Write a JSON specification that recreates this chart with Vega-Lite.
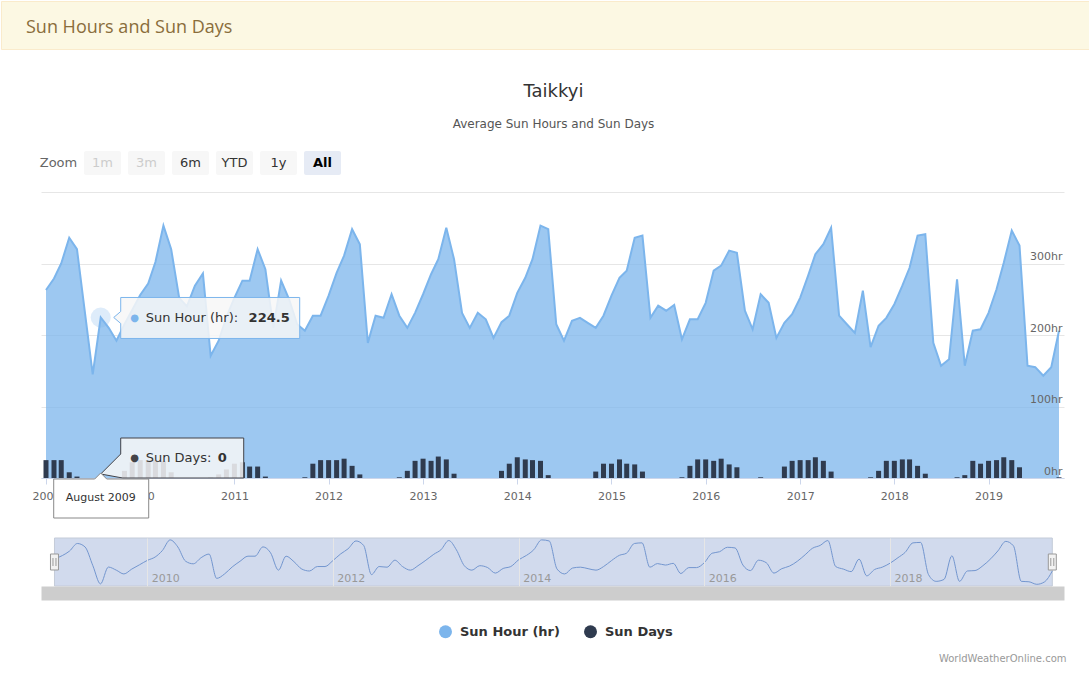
{
  "$schema": "https://vega.github.io/schema/vega-lite/v6.json",
  "background": "white",
  "padding": 0,
  "config": {
    "font": "DejaVu Sans",
    "view": {"stroke": null},
    "title": {"font": "DejaVu Sans"},
    "axis": {"labelFont": "DejaVu Sans"},
    "legend": {"labelFont": "DejaVu Sans"}
  },
  "datasets": {
    "sun": [
      {"date":"2009-01-01","hours":263,"days":25},{"date":"2009-02-01","hours":279,"days":25},{"date":"2009-03-01","hours":300,"days":25},{"date":"2009-04-01","hours":336,"days":8},{"date":"2009-05-01","hours":320,"days":2},{"date":"2009-06-01","hours":231,"days":0},{"date":"2009-07-01","hours":145,"days":0},{"date":"2009-08-01","hours":224.5,"days":0},{"date":"2009-09-01","hours":210,"days":0},{"date":"2009-10-01","hours":192,"days":0},{"date":"2009-11-01","hours":215,"days":10},{"date":"2009-12-01","hours":235,"days":22},
      {"date":"2010-01-01","hours":256,"days":25},{"date":"2010-02-01","hours":272,"days":25},{"date":"2010-03-01","hours":302,"days":25},{"date":"2010-04-01","hours":353,"days":24},{"date":"2010-05-01","hours":320,"days":8},{"date":"2010-06-01","hours":252,"days":0},{"date":"2010-07-01","hours":240,"days":0},{"date":"2010-08-01","hours":269,"days":0},{"date":"2010-09-01","hours":286,"days":0},{"date":"2010-10-01","hours":171,"days":1},{"date":"2010-11-01","hours":192,"days":5},{"date":"2010-12-01","hours":225,"days":12},
      {"date":"2011-01-01","hours":252,"days":20},{"date":"2011-02-01","hours":276,"days":22},{"date":"2011-03-01","hours":276,"days":16},{"date":"2011-04-01","hours":320,"days":16},{"date":"2011-05-01","hours":292,"days":2},{"date":"2011-06-01","hours":210,"days":0},{"date":"2011-07-01","hours":276,"days":0},{"date":"2011-08-01","hours":250,"days":0},{"date":"2011-09-01","hours":215,"days":0},{"date":"2011-10-01","hours":206,"days":1},{"date":"2011-11-01","hours":227,"days":20},{"date":"2011-12-01","hours":227,"days":25},
      {"date":"2012-01-01","hours":255,"days":25},{"date":"2012-02-01","hours":287,"days":25},{"date":"2012-03-01","hours":311,"days":27},{"date":"2012-04-01","hours":348,"days":17},{"date":"2012-05-01","hours":327,"days":5},{"date":"2012-06-01","hours":189,"days":0},{"date":"2012-07-01","hours":227,"days":0},{"date":"2012-08-01","hours":224,"days":0},{"date":"2012-09-01","hours":257,"days":0},{"date":"2012-10-01","hours":227,"days":1},{"date":"2012-11-01","hours":210,"days":10},{"date":"2012-12-01","hours":231,"days":24},
      {"date":"2013-01-01","hours":257,"days":27},{"date":"2013-02-01","hours":285,"days":24},{"date":"2013-03-01","hours":306,"days":30},{"date":"2013-04-01","hours":350,"days":26},{"date":"2013-05-01","hours":306,"days":6},{"date":"2013-06-01","hours":231,"days":0},{"date":"2013-07-01","hours":210,"days":0},{"date":"2013-08-01","hours":231,"days":0},{"date":"2013-09-01","hours":222,"days":0},{"date":"2013-10-01","hours":196,"days":0},{"date":"2013-11-01","hours":218,"days":10},{"date":"2013-12-01","hours":227,"days":20},
      {"date":"2014-01-01","hours":259,"days":29},{"date":"2014-02-01","hours":280,"days":26},{"date":"2014-03-01","hours":306,"days":25},{"date":"2014-04-01","hours":353,"days":24},{"date":"2014-05-01","hours":348,"days":4},{"date":"2014-06-01","hours":215,"days":0},{"date":"2014-07-01","hours":192,"days":0},{"date":"2014-08-01","hours":220,"days":0},{"date":"2014-09-01","hours":224,"days":0},{"date":"2014-10-01","hours":217,"days":0},{"date":"2014-11-01","hours":210,"days":9},{"date":"2014-12-01","hours":227,"days":20},
      {"date":"2015-01-01","hours":255,"days":20},{"date":"2015-02-01","hours":280,"days":26},{"date":"2015-03-01","hours":290,"days":20},{"date":"2015-04-01","hours":336,"days":19},{"date":"2015-05-01","hours":339,"days":9},{"date":"2015-06-01","hours":224,"days":0},{"date":"2015-07-01","hours":241,"days":0},{"date":"2015-08-01","hours":234,"days":0},{"date":"2015-09-01","hours":242,"days":0},{"date":"2015-10-01","hours":194,"days":1},{"date":"2015-11-01","hours":222,"days":17},{"date":"2015-12-01","hours":222,"days":26},
      {"date":"2016-01-01","hours":245,"days":26},{"date":"2016-02-01","hours":290,"days":24},{"date":"2016-03-01","hours":297,"days":27},{"date":"2016-04-01","hours":318,"days":19},{"date":"2016-05-01","hours":315,"days":15},{"date":"2016-06-01","hours":234,"days":0},{"date":"2016-07-01","hours":208,"days":0},{"date":"2016-08-01","hours":257,"days":1},{"date":"2016-09-01","hours":245,"days":0},{"date":"2016-10-01","hours":196,"days":0},{"date":"2016-11-01","hours":217,"days":16},{"date":"2016-12-01","hours":229,"days":24},
      {"date":"2017-01-01","hours":252,"days":25},{"date":"2017-02-01","hours":283,"days":25},{"date":"2017-03-01","hours":313,"days":29},{"date":"2017-04-01","hours":327,"days":24},{"date":"2017-05-01","hours":350,"days":9},{"date":"2017-06-01","hours":227,"days":0},{"date":"2017-07-01","hours":215,"days":0},{"date":"2017-08-01","hours":203,"days":0},{"date":"2017-09-01","hours":262,"days":0},{"date":"2017-10-01","hours":183,"days":1},{"date":"2017-11-01","hours":213,"days":10},{"date":"2017-12-01","hours":224,"days":24},
      {"date":"2018-01-01","hours":243,"days":24},{"date":"2018-02-01","hours":269,"days":26},{"date":"2018-03-01","hours":294,"days":26},{"date":"2018-04-01","hours":339,"days":17},{"date":"2018-05-01","hours":341,"days":6},{"date":"2018-06-01","hours":189,"days":0},{"date":"2018-07-01","hours":157,"days":0},{"date":"2018-08-01","hours":166,"days":0},{"date":"2018-09-01","hours":278,"days":1},{"date":"2018-10-01","hours":157,"days":4},{"date":"2018-11-01","hours":206,"days":24},{"date":"2018-12-01","hours":208,"days":20},
      {"date":"2019-01-01","hours":231,"days":24},{"date":"2019-02-01","hours":264,"days":25},{"date":"2019-03-01","hours":301,"days":29},{"date":"2019-04-01","hours":346,"days":25},{"date":"2019-05-01","hours":325,"days":15},{"date":"2019-06-01","hours":157,"days":0},{"date":"2019-07-01","hours":155,"days":0},{"date":"2019-08-01","hours":143,"days":0},{"date":"2019-09-01","hours":155,"days":0},{"date":"2019-10-01","hours":206,"days":1}
    ],
    "buttons": [
      {"label":"Zoom","state":"title"},
      {"label":"1m","state":"disabled"},
      {"label":"3m","state":"disabled"},
      {"label":"6m","state":"enabled"},
      {"label":"YTD","state":"enabled"},
      {"label":"1y","state":"enabled"},
      {"label":"All","state":"selected"}
    ],
    "header": [{"panel": "Sun Hours and Sun Days"}]
  },
  "title": {"text": "WorldWeatherOnline.com", "orient": "bottom", "anchor": "end", "fontSize": 10, "fontWeight": "normal", "color": "#999999", "dx": -24, "offset": 15},
  "spacing": 33,
  "vconcat": [
    {
      "width": 1089,
      "height": 48,
      "view": {"fill": "#fcf8e3", "stroke": "#faebcc"},
      "data": {"name": "header"},
      "mark": {"type": "text", "align": "left", "baseline": "middle", "dx": 25, "dy": 3, "fontSize": 18, "font": "Open Sans", "color": "#8a6d3b"},
      "encoding": {
        "x": {"datum": 0, "type": "quantitative", "scale": {"domain": [0, 1]}, "axis": null},
        "text": {"field": "panel"}
      }
    },
    {
      "title": {"text": "Taikkyi", "subtitle": "Average Sun Hours and Sun Days", "anchor": "middle", "fontSize": 18, "fontWeight": "normal", "color": "#333333", "subtitleFontSize": 12, "subtitleColor": "#555555", "subtitlePadding": 18, "offset": 21, "dx": 21},
      "spacing": 17,
      "vconcat": [
        {
          "width": 340,
          "height": 24,
          "data": {"name": "buttons"},
          "encoding": {
            "x": {"field": "label", "type": "nominal", "sort": null, "scale": {"domain": ["Zoom","1m","3m","6m","YTD","1y","All"], "paddingInner": 0.16, "paddingOuter": 0.443, "align": 1}, "axis": null}
          },
          "layer": [
            {
              "mark": {"type": "rect", "cornerRadius": 2},
              "encoding": {
                "color": {"condition": [{"test": "datum.state == 'selected'", "value": "#e6ebf5"}, {"test": "datum.state == 'title'", "value": "#ffffff"}], "value": "#f7f7f7"}
              }
            },
            {
              "transform": [{"filter": "datum.state != 'selected'"}],
              "mark": {"type": "text", "fontSize": 13, "baseline": "middle"},
              "encoding": {
                "text": {"field": "label"},
                "color": {"condition": [{"test": "datum.state == 'disabled'", "value": "#cccccc"}, {"test": "datum.state == 'title'", "value": "#666666"}], "value": "#333333"}
              }
            },
            {
              "transform": [{"filter": "datum.state == 'selected'"}],
              "mark": {"type": "text", "fontSize": 13, "fontWeight": "bold", "baseline": "middle", "color": "#000000"},
              "encoding": {"text": {"field": "label"}}
            }
          ]
        },
        {
          "width": 1063,
          "height": 286,
          "data": {"name": "sun"},
          "encoding": {
            "x": {
              "field": "date", "type": "temporal",
              "scale": {"type": "utc", "nice": false, "rangeMin": 40, "domain": [{"year": 2009, "month": 1, "date": 1, "utc": true}, {"year": 2019, "month": 10, "date": 1, "utc": true}]},
              "axis": {"title": null, "format": "%Y", "tickCount": {"interval": "year", "step": 1}, "grid": false, "domainColor": "#ccd6eb", "tickColor": "#ccd6eb", "tickSize": 6, "labelPadding": 6, "labelColor": "#666666", "labelFontSize": 11, "labelFlush": false, "labelOverlap": false, "zindex": 0}
            }
          },
          "layer": [
            {
              "mark": {"type": "area", "fillOpacity": 0.75, "line": {"strokeWidth": 2}},
              "encoding": {
                "y": {"field": "hours", "type": "quantitative", "scale": {"domain": [0, 400], "nice": false},
                  "axis": {"orient": "right", "title": null, "values": [0, 100, 200, 300], "labelExpr": "datum.value + 'hr'", "grid": false, "domain": false, "ticks": false, "tickSize": 0, "labelAlign": "right", "labelBaseline": "alphabetic", "labelPadding": -2, "labelOffset": -4, "labelColor": "#666666", "labelFontSize": 11, "zindex": 1}},
                "color": {"datum": "Sun Hour (hr)", "scale": {"domain": ["Sun Hour (hr)", "Sun Days"], "range": ["#7cb5ec", "#2f3b4f"]},
                  "legend": {"orient": "none", "legendX": 438, "legendY": 624, "direction": "horizontal", "title": null, "symbolType": "circle", "symbolSize": 169, "symbolOpacity": 1, "symbolStrokeWidth": 0, "labelFontSize": 13, "labelFontWeight": "bold", "labelColor": "#333333", "columnPadding": 24, "labelOffset": 8}}
              }
            },
            {
              "mark": {"type": "bar", "size": 5},
              "encoding": {
                "y": {"field": "days", "type": "quantitative",
                  "axis": {"orient": "left", "title": null, "labels": false, "domain": false, "grid": true, "gridColor": "#e6e6e6", "ticks": false, "values": [0, 100, 200, 300, 400], "zindex": 0}},
                "color": {"datum": "Sun Days"}
              }
            },
            {
              "transform": [{"filter": "datum.hours == 224.5"}],
              "mark": {"type": "point", "shape": "circle", "size": 400, "filled": true, "color": "#7cb5ec", "opacity": 0.25},
              "encoding": {"y": {"field": "hours", "type": "quantitative", "axis": null}}
            },
            {
              "transform": [{"filter": "datum.hours == 224.5"}],
              "mark": {"type": "point", "shape": "M20,-20H199V21H20V6L13,0L20,-6Z", "size": 4, "filled": true, "fill": "#f7f7f7", "fillOpacity": 0.85, "stroke": "#7cb5ec", "strokeWidth": 1, "opacity": 1},
              "encoding": {"y": {"field": "hours", "type": "quantitative", "axis": null}}
            },
            {
              "transform": [{"filter": "datum.hours == 224.5"}],
              "mark": {"type": "text", "text": "●", "dx": 34, "dy": 1, "align": "center", "baseline": "middle", "fontSize": 10, "color": "#7cb5ec"},
              "encoding": {"y": {"field": "hours", "type": "quantitative", "axis": null}}
            },
            {
              "transform": [{"filter": "datum.hours == 224.5"}],
              "mark": {"type": "text", "text": "Sun Hour (hr):", "dx": 45, "dy": 1, "align": "left", "baseline": "middle", "fontSize": 13, "color": "#333333"},
              "encoding": {"y": {"field": "hours", "type": "quantitative", "axis": null}}
            },
            {
              "transform": [{"filter": "datum.hours == 224.5"}],
              "mark": {"type": "text", "dx": 189, "dy": 1, "align": "right", "baseline": "middle", "fontSize": 13, "fontWeight": "bold", "color": "#333333"},
              "encoding": {"y": {"field": "hours", "type": "quantitative", "axis": null}, "text": {"field": "hours", "type": "quantitative", "format": ".1f"}}
            },
            {
              "transform": [{"filter": "datum.hours == 224.5"}],
              "mark": {"type": "point", "shape": "M20,-40H143V0H22L0,-4L20,-24Z", "size": 4, "filled": true, "fill": "#f7f7f7", "fillOpacity": 0.85, "stroke": "#434348", "strokeWidth": 1, "opacity": 1},
              "encoding": {"y": {"field": "days", "type": "quantitative", "axis": null}}
            },
            {
              "transform": [{"filter": "datum.hours == 224.5"}],
              "mark": {"type": "text", "text": "●", "dx": 34, "dy": -20, "align": "center", "baseline": "middle", "fontSize": 10, "color": "#434348"},
              "encoding": {"y": {"field": "days", "type": "quantitative", "axis": null}}
            },
            {
              "transform": [{"filter": "datum.hours == 224.5"}],
              "mark": {"type": "text", "text": "Sun Days:", "dx": 45, "dy": -20, "align": "left", "baseline": "middle", "fontSize": 13, "color": "#333333"},
              "encoding": {"y": {"field": "days", "type": "quantitative", "axis": null}}
            },
            {
              "transform": [{"filter": "datum.hours == 224.5"}],
              "mark": {"type": "text", "dx": 126, "dy": -20, "align": "right", "baseline": "middle", "fontSize": 13, "fontWeight": "bold", "color": "#333333"},
              "encoding": {"y": {"field": "days", "type": "quantitative", "axis": null}, "text": {"field": "days", "type": "quantitative"}}
            },
            {
              "transform": [{"filter": "datum.hours == 224.5"}],
              "mark": {"type": "point", "shape": "M-47,1H-6L0,-5L6,1H48V40H-47Z", "size": 4, "filled": true, "fill": "#ffffff", "fillOpacity": 1, "stroke": "#888888", "strokeWidth": 1, "opacity": 1},
              "encoding": {"y": {"field": "days", "type": "quantitative", "axis": null}}
            },
            {
              "transform": [{"filter": "datum.hours == 224.5"}],
              "mark": {"type": "text", "dy": 20, "align": "center", "baseline": "middle", "fontSize": 11, "color": "#333333"},
              "encoding": {"y": {"field": "days", "type": "quantitative", "axis": null}, "text": {"field": "date", "type": "temporal", "timeUnit": "utcyearmonth", "format": "%B %Y"}}
            }
          ],
          "resolve": {"axis": {"y": "independent"}}
        },
        {
          "width": 1063,
          "height": 48,
          "data": {"name": "sun"},
          "encoding": {
            "x": {
              "field": "date", "type": "temporal",
              "scale": {"type": "utc", "nice": false, "rangeMin": 40, "domain": [{"year": 2008, "month": 11, "date": 9, "utc": true}, {"year": 2019, "month": 11, "date": 16, "utc": true}]},
              "axis": {"title": null, "format": "%Y", "tickCount": {"interval": "year", "step": 2}, "grid": true, "gridColor": "#e6e6e6", "ticks": false, "tickSize": 0, "domain": true, "domainColor": "#cdcdcd", "domainWidth": 14, "offset": 7, "labelAlign": "left", "labelBaseline": "alphabetic", "labelPadding": -12, "labelOffset": 4, "labelColor": "#999999", "labelFontSize": 11, "labelFlush": false, "zindex": 1}
            }
          },
          "layer": [
            {
              "mark": {"type": "rect", "color": "#d1daed", "stroke": "#c4cbd8", "strokeWidth": 1},
              "encoding": {
                "x": {"aggregate": "min", "field": "date", "type": "temporal"},
                "x2": {"aggregate": "max", "field": "date"}
              }
            },
            {
              "mark": {"type": "line", "interpolate": "monotone", "color": "#7396cf", "strokeWidth": 1},
              "encoding": {
                "y": {"field": "hours", "type": "quantitative", "scale": {"domain": [135, 362], "nice": false, "zero": false}, "axis": null}
              }
            },
            {
              "mark": {"type": "point", "shape": "M-4,-8H4V8H-4Z M-1.5,-4V4 M1.5,-4V4", "size": 4, "filled": true, "fill": "#f2f2f2", "stroke": "#999999", "strokeWidth": 1, "opacity": 1},
              "encoding": {
                "x": {"aggregate": "min", "field": "date", "type": "temporal"},
                "y": {"datum": 248.5, "type": "quantitative", "axis": null}
              }
            },
            {
              "mark": {"type": "point", "shape": "M-4,-8H4V8H-4Z M-1.5,-4V4 M1.5,-4V4", "size": 4, "filled": true, "fill": "#f2f2f2", "stroke": "#999999", "strokeWidth": 1, "opacity": 1},
              "encoding": {
                "x": {"aggregate": "max", "field": "date", "type": "temporal"},
                "y": {"datum": 248.5, "type": "quantitative", "axis": null}
              }
            }
          ]
        }
      ]
    }
  ]
}
